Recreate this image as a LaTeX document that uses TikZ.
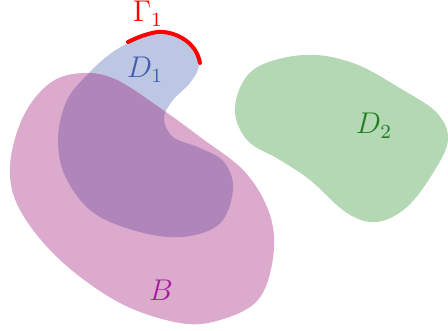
\documentclass[tikz,border=0pt]{standalone}
\usetikzlibrary{positioning}
\definecolor{domblue}{RGB}{65,95,175}
\definecolor{domgreen}{RGB}{40,140,40}
\definecolor{ballfill}{RGB}{154,11,111}
\definecolor{balltext}{RGB}{165,30,160}

\begin{document}
\begin{tikzpicture}[
    x=0.4pt,y=-0.4pt,
    region/.style={fill opacity=0.35,draw=none},
    boundary/.style={red,line width=1.6pt,line cap=round},
    lbl/.style={font=\large}
]
    \useasboundingbox (0,0) rectangle (448,331);

    % domain D1
    \fill[region,domblue] plot[smooth cycle,tension=0.6] coordinates {
        (128,43) (145,35) (163,32) (181,36) (195,50) (199,66) (190,83)
        (173,100) (164,118) (173,137) (200,148) (224,162) (233,190)
        (217,226) (167,237) (100,217) (67,180) (58,140) (67,100) (90,72) (110,54)};

    % ball B
    \fill[region,ballfill] plot[smooth cycle,tension=0.6] coordinates {
        (83,73) (117,80) (163,110) (200,137) (245,172) (270,215) (273,258)
        (258,300) (220,320) (180,323) (120,303) (60,260) (20,210) (10,167) (23,117) (50,83)};

    % domain D2
    \fill[region,domgreen] plot[smooth cycle,tension=0.6] coordinates {
        (235,107) (253,70) (303,55) (353,63) (403,90) (437,113) (448,140)
        (433,173) (407,207) (377,222) (347,213) (310,180) (280,160) (247,140)};

    % boundary piece Gamma1
    \draw[boundary] plot[smooth,tension=0.7] coordinates {
        (128,42) (145,35) (163,32) (182,38) (195,50) (200,63)};

    \node[lbl,red] (gamma) at (148,14) {$\Gamma_1$};
    \node[lbl,domblue] (d1) at (145,70) {$D_1$};
    \node[lbl,balltext] (b) at (161,290) {$B$};
    \node[lbl,domgreen!90!black] (d2) at (374,126) {$D_2$};
\end{tikzpicture}
\end{document}
